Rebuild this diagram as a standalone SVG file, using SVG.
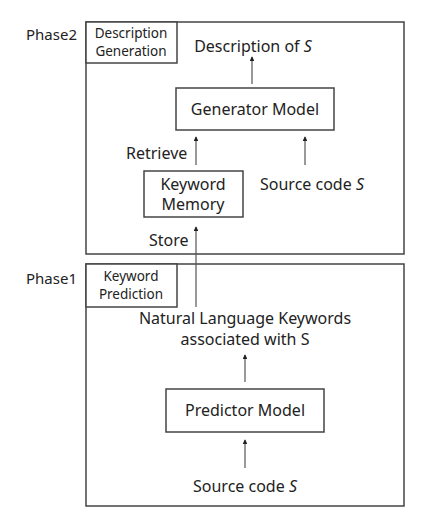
<svg xmlns="http://www.w3.org/2000/svg" width="430" height="522" viewBox="0 0 430 522">
<style>
text{font-family:"Noto Sans","Open Sans",sans-serif;fill:#222;font-size:16px}
.s{font-size:13.5px}
.p{font-size:15px}
.box{fill:#fff;stroke:#444;stroke-width:1.5}
.ln{stroke:#555;stroke-width:1.2;fill:none}
.i{font-style:italic}
</style>
<defs>
<marker id="ah" viewBox="0 0 6 6" refX="5" refY="3" markerWidth="4" markerHeight="4" orient="auto"><path d="M0,0 L6,3 L0,6 z" fill="#222"/></marker>
</defs>
<rect width="430" height="522" fill="#fff"/>
<g id="phase2">
<rect class="box" x="86" y="22" width="318" height="232"/>
<text class="p" x="26" y="40">Phase2</text>
</g>
<g id="desc-gen">
<rect class="box" x="86" y="22" width="91" height="41"/>
<text class="s" x="131" y="38" text-anchor="middle">Description</text>
<text class="s" x="131" y="56" text-anchor="middle">Generation</text>
</g>
<g id="desc-of-s"><text x="253" y="52" text-anchor="middle">Description of <tspan class="i">S</tspan></text></g>
<g id="generator">
<rect class="box" x="176" y="88" width="158" height="42"/>
<text x="255" y="115" text-anchor="middle">Generator Model</text>
</g>
<g id="keyword-memory">
<rect class="box" x="144" y="171" width="99" height="46"/>
<text x="193" y="190" text-anchor="middle">Keyword</text>
<text x="193" y="210" text-anchor="middle">Memory</text>
</g>
<g id="src2"><text x="312" y="190" text-anchor="middle">Source code <tspan class="i">S</tspan></text></g>
<g id="phase1">
<rect class="box" x="86" y="264" width="318" height="242"/>
<text class="p" x="26" y="284">Phase1</text>
</g>
<g id="kw-pred">
<rect class="box" x="86" y="264" width="91" height="43"/>
<text class="s" x="131" y="281" text-anchor="middle">Keyword</text>
<text class="s" x="131" y="299" text-anchor="middle">Prediction</text>
</g>
<g id="nlk">
<text x="245" y="324" text-anchor="middle">Natural Language Keywords</text>
<text x="245" y="345" text-anchor="middle">associated with S</text>
</g>
<g id="predictor">
<rect class="box" x="166" y="389" width="158" height="43"/>
<text x="245" y="416" text-anchor="middle">Predictor Model</text>
</g>
<g id="src1"><text x="245" y="492" text-anchor="middle">Source code <tspan class="i">S</tspan></text></g>
<g id="connectors">
<line class="ln" x1="252" y1="84" x2="252" y2="57" marker-end="url(#ah)"/>
<line class="ln" x1="196" y1="165" x2="196" y2="137" marker-end="url(#ah)"/>
<line class="ln" x1="305" y1="165" x2="305" y2="137" marker-end="url(#ah)"/>
<line class="ln" x1="196" y1="307" x2="196" y2="227" marker-end="url(#ah)"/>
<line class="ln" x1="245" y1="382" x2="245" y2="355" marker-end="url(#ah)"/>
<line class="ln" x1="245" y1="468" x2="245" y2="440" marker-end="url(#ah)"/>
</g>
<g id="labels">
<text x="126" y="159">Retrieve</text>
<text x="149" y="246">Store</text>
</g>
</svg>
